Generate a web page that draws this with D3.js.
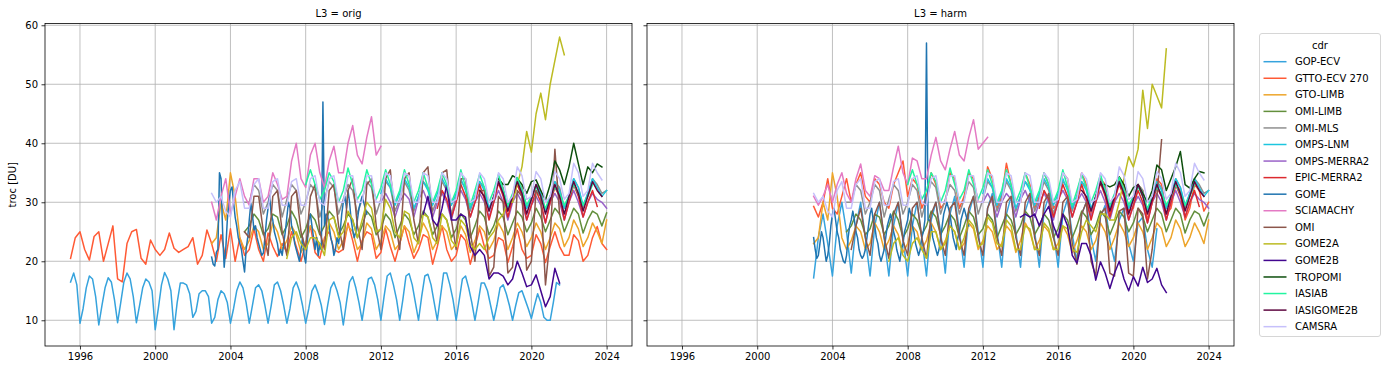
<!DOCTYPE html>
<html>
<head>
<meta charset="utf-8">
<script src="https://cdn.jsdelivr.net/npm/d3@7"></script>
<style>
  body { margin: 0; background: #fff; }
  svg { font-family: 'DejaVu Sans', sans-serif; }
</style>
</head>
<body>
<svg id="chart" width="1385" height="373"></svg>
<script>
  'use strict';

  const PANELS = ['orig', 'harm'];
  const X_TICKS = [1996, 2000, 2004, 2008, 2012, 2016, 2020, 2024];
  const Y_TICKS = [10, 20, 30, 40, 50, 60];
  const CDR = ['GOP-ECV', 'GTTO-ECV 270', 'GTO-LIMB', 'OMI-LIMB', 'OMI-MLS', 'OMPS-LNM',
    'OMPS-MERRA2', 'EPIC-MERRA2', 'GOME', 'SCIAMACHY', 'OMI', 'GOME2A', 'GOME2B',
    'TROPOMI', 'IASIAB', 'IASIGOME2B', 'CAMSRA'];
  const COLORS = ['#36a3dd', '#ff5a35', '#eda52b', '#638f3c', '#8f8f8f', '#1cc6df',
    '#9a62c8', '#dc2a2f', '#1f74b0', '#e47ac4', '#8c564b', '#bcbb22', '#42068f',
    '#0d4f0d', '#22f5a0', '#5e0740', '#c6c0fb'];

  // troc [DU]; GOP-ECV orig is bimonthly (Jan, Mar, May, Jul, Sep, Nov) from Jul 1995
  const gopEcvOrig = [16.5, 18, 16,
    9.5, 12, 15.5, 17.5, 17, 14, 9.2, 12.5, 15.5, 17.2, 16.5, 13.5,
    9.6, 13, 16.5, 18, 17, 14, 9.6, 12.5, 15.5, 17, 16.5, 15,
    8.4, 12, 16, 18.1, 17, 15, 8.4, 13, 16.3, 16.3, 16, 14.5,
    10.5, 11.5, 14.5, 15, 15, 14, 9.5, 10.5, 13.5, 15, 14.5, 13,
    9.5, 12, 15, 16.5, 15.5, 13, 9.5, 12.5, 15.5, 16, 15, 12.5,
    9.5, 12.5, 16, 16.5, 15, 12.5, 9.5, 12, 15.5, 16.5, 15, 12.5,
    9.5, 12, 15, 16, 14.5, 12.5, 9.3, 12.5, 15.5, 16.5, 15, 13,
    9.2, 13, 16.5, 17.4, 15.5, 13, 10, 13.5, 17, 17.3, 16, 13.5,
    10, 14, 17.5, 18, 16, 13.5, 10, 13.5, 17.5, 17.9, 16, 13,
    10, 14, 17.5, 17.8, 16, 13, 10, 14, 18, 18, 16, 13.5,
    10, 13.5, 17, 17.5, 15.5, 13, 10, 13, 16.3, 16.3, 15, 12.5,
    10, 12.5, 15.5, 16, 14.5, 12.5, 10, 12.5, 14.7, 15, 13.5, 12,
    10.3, 12.5, 14.5, 13, 10.5, 10, 10, 13, 16.4, 16];

  // the other series: quarterly values (Jan, Apr, Jul, Oct) from the given start year
  const gopEcvHarm = [17.2, 24, 28, 23, 17.5, 26, 30, 25, 18, 26, 30, 24, 17.5, 26, 30, 24,
    17.5, 26, 30, 24, 17.5, 26, 30, 24, 17.5, 27, 30, 25, 18, 28, 31, 25,
    19, 28, 31, 25, 19, 29, 31.5, 25, 19, 28, 31, 25, 19, 28.5, 31, 25,
    19, 28.5, 31, 25, 19, 28, 30.5, 24.5, 20, 28, 30, 24, 20, 27.5, 29.5, 23.5,
    20, 27, 29, 23, 20, 26.5, 27.5, 22, 19, 25.5];
  const gttoOrig = [20.5, 24,
    25, 22, 20.2, 24.2, 25, 20, 23, 26, 17, 16.5, 23, 25, 25.4, 20.5, 19.5, 23.6,
    22, 21, 22, 24.8, 22.2, 21.5, 22, 22.5, 24, 19.5, 21, 25.3, 23, 20, 24.5, 20.5,
    25.5, 20, 24, 21, 22, 25.5, 22, 20, 24.8, 22.5, 20.8, 23, 21.5, 25, 22.5, 20,
    23, 26, 21.5, 20.5, 24, 25, 22, 21.5, 22, 26.5, 23.5, 20, 23.5, 25, 24.5, 20.5,
    21.5, 25.5, 22.5, 20, 23, 26, 23, 20.5, 22, 24.5, 24, 19.5, 22.5, 26, 22, 20,
    21, 24.5, 23.5, 19.5, 22.5, 25.5, 22.5, 20.5, 21, 24, 23.5, 19.8, 22.5, 25.5, 22, 20.5,
    21, 24.5, 23, 19.8, 22.5, 25, 22.5, 21, 21, 24.5, 23.5, 20, 21, 24, 25.9, 23,
    22];
  const gttoHarm = [29.3, 27.5, 30, 34, 29, 28, 31, 34, 30, 33, 35, 31, 30, 34, 33, 30,
    29, 33, 35, 37, 31, 34, 33, 29, 31, 35, 33, 29, 30, 35, 34, 29,
    31, 35, 34, 30, 30, 36, 34, 29, 31, 36.6, 33, 30, 30, 35, 33, 29,
    31, 35, 33, 29, 30, 35, 34, 29, 31, 35, 33, 28, 30, 34, 33, 28,
    30, 34, 33, 28.5, 29, 33, 32, 27, 30, 34, 33, 28, 29, 33, 32, 27,
    29, 33, 32, 28.5, 30];
  const gtoLimb = [23, 24, 30, 27, 35, 31, 24, 22, 23.5, 26, 25, 22, 23, 26.5, 25, 22,
    23.5, 26, 24.5, 21.5, 23, 26, 25, 22, 23.5, 26.5, 25, 22, 23.5, 26, 25, 22,
    23, 26.5, 25.5, 22, 23.5, 26, 25, 22, 23, 26, 25, 21.5, 23.5, 26.5, 25, 22,
    23.5, 26, 25, 22, 23, 26, 24.5, 21.5, 23.5, 26, 25, 22, 23.5, 26.5, 25, 22,
    24, 26.5, 25, 22.5, 24, 26.5, 25, 22, 24, 26.5, 25.5, 22.5, 24, 27, 25.5, 22.5,
    24, 26.5, 25, 23, 27];
  const omiLimb = [25,
    26, 28, 27, 24.5, 25.5, 28, 27.5, 24.5, 26, 28.5, 27, 24, 25.5, 28, 27, 24.5,
    26, 28.5, 27.5, 24.5, 26, 28, 27, 24, 26, 28.5, 27.5, 24.5, 25.5, 28, 27, 24,
    26, 28, 27, 24.5, 26, 28.5, 27.5, 24.5, 26, 28, 27, 24, 25.5, 28, 27, 24,
    26, 28.5, 27.5, 24.5, 26, 28.5, 27.5, 24.5, 26.5, 28.5, 27.5, 25, 26.5, 29, 27.5, 25,
    27, 29, 28, 25, 27, 29, 28, 24.8, 27, 28.5, 28, 26, 28.2];
  const omiMls = [30,
    30, 33, 32, 28, 30, 33, 32, 27.5, 30.5, 33, 32, 28, 30, 33, 32, 27.5,
    30.5, 33.5, 32.5, 28, 30.5, 33, 32, 28, 30.5, 33.5, 32.5, 28, 30.5, 33.5, 32.5, 28.5,
    30.5, 33.5, 32, 28.5, 31, 33.5, 32.5, 28.5, 30.5, 33.5, 32, 28, 31, 33.5, 32.5, 28.5,
    31, 33.5, 32.5, 28.5, 31, 34, 32.5, 28.5, 31, 33.5, 32.5, 29, 30.5, 33, 32, 28.5,
    31, 33.5, 32.5, 29, 31, 34, 32.5, 29, 31.5, 34, 33, 31.5, 32];
  const ompsLnm = [31.5, 34, 32.5, 29.5, 31.5, 34, 32.5, 29, 31, 33.5, 32, 29.5,
    31.5, 34, 32.5, 29.5, 31.5, 34, 32, 29, 31, 33.5, 32, 29, 31, 33.5, 32, 29,
    31, 33.5, 32, 29, 30.5, 33, 31.5, 28.5, 31, 33.5, 32, 29, 31, 34, 32.5, 29.5,
    31.5, 34, 32.5, 31, 32];
  const ompsMerra2 = [30, 31.5, 30, 27.5, 30, 31.5, 30.5, 27.5, 30.5, 32, 30, 27.5,
    30, 31.5, 30, 27, 30.5, 32, 30.5, 27.5, 30, 31.5, 30, 27.5, 30, 32, 30, 27,
    30, 31.5, 30, 27, 29.5, 31, 29.5, 26.5, 30, 31.5, 30, 27, 30, 32, 30, 27.5,
    30, 31.5, 30.5, 30, 29];
  const epicMerra2 = [29, 32, 30.5, 27.5, 30, 33, 31, 27.5, 30, 33, 30.5, 27,
    30, 33.3, 31, 27.5, 30.5, 33, 31, 27, 29.5, 32, 30, 26.5, 30, 32.5, 31, 27,
    30, 33, 31, 27.5, 30, 32, 29.3];
  const sciaOrig = [30, 27, 31, 34, 28, 31, 34, 31, 29.5, 34, 34, 30, 31, 35, 33, 30.5,
    31, 37, 40, 34, 32.5, 38, 40, 35, 32.5, 37, 39.5, 35, 35, 40, 43, 38,
    36.5, 41, 44.5, 38, 39.5];
  const sciaHarm = [31, 29.5, 31, 33, 30, 33, 35, 31.5, 30, 34, 36.5, 32, 31, 34.5, 34, 32,
    32, 36, 39.5, 35, 33, 37.5, 37, 34, 34, 38, 41, 37, 35.5, 39, 42, 38,
    37, 41, 44, 39, 40, 41];
  const omiOrig = [25,
    24, 31, 31, 25, 21, 31, 32, 25, 21, 31, 32, 25, 22, 31, 33, 25,
    22, 32, 33, 26, 22, 32, 34, 26, 22, 33, 34, 26, 22, 34, 35.5, 27,
    22, 34, 35, 27, 23, 35, 36, 27, 23, 35, 35.5, 27, 22, 34, 34, 25,
    20, 32, 32, 17.5, 19, 31, 30, 18, 19, 32, 31, 18.5, 20, 32, 31, 16,
    24, 39, 28];
  const omiHarm = [22, 26, 29, 24, 21, 28, 30, 24, 20.5, 28, 30, 23.5, 21, 29, 30, 24,
    20.5, 28, 30, 24, 21, 29, 30, 24, 21, 29, 31, 24, 21, 29, 31, 24,
    21, 30, 31, 24, 21, 30, 31.5, 24, 21, 30, 31.5, 24, 21, 30, 31, 23,
    19.5, 28, 30, 20, 17.5, 28, 29, 18, 17.5, 28.5, 29, 18, 17.5, 29, 28, 17,
    22, 31, 40.6];
  const gome2aOrig = [20.5, 24, 25, 23, 22, 24, 24, 23, 21, 27, 27.5, 24, 25, 28.5, 27, 24,
    27, 30, 29, 25, 25.5, 30.5, 29, 25, 24, 28.5, 28, 24, 23, 28, 27.5, 24,
    23, 28, 27, 23.5, 22.5, 27, 26, 23, 22, 23, 22, 24, 25, 27, 28, 30,
    30, 33, 36, 42, 38.5, 45, 48.5, 44, 50, 54, 58, 55];
  const gome2aHarm = [20, 23, 24, 21, 20, 23, 24, 22, 20.5, 25, 25, 22, 23, 26, 25, 22,
    24, 27, 26, 22.5, 23, 27.5, 26.5, 23, 22.5, 27, 26, 22, 22, 26, 25.5, 22,
    22, 26.5, 25.5, 22, 22, 26, 25.5, 22, 21.5, 25, 27, 26, 25, 28, 28, 27,
    27, 30, 34, 37.7, 36, 39, 49, 42.5, 50, 48, 46, 56];
  const gome2bOrig = [28, 31, 27, 26, 29, 33, 27, 27, 28, 27.5, 22.5,
    21, 22, 21, 17, 18, 18, 17.5, 16, 17, 20, 18, 15.7, 16, 17.7, 15, 12.3,
    14, 18.8, 16.3];
  const gome2bHarm = [27.5, 28, 27.5, 28, 26, 28, 29.3, 26, 24, 28, 26, 21,
    19.7, 23, 23, 21, 16.8, 19.9, 18, 15.4, 18, 20, 17, 15, 17.4, 15.8, 19, 16.4,
    17, 18.8, 16, 14.7];
  const tropomiOrig = [34, 33, 33, 34.5, 34, 33, 31.5, 33.5, 33.8, 32, 30.4,
    33, 37, 35.5, 33, 36, 40, 36.5, 33, 36, 35, 36.5, 36];
  const tropomiHarm = [33, 33, 32.6, 33, 34.3, 33, 31, 32.5, 33, 31.5, 30,
    32, 36.3, 35.5, 32, 34, 36, 38.6, 33, 32.4, 34, 35.2, 35];
  const iasiab = [33, 35.5, 33, 30.5, 32, 35, 33.5, 30, 32, 35.8, 33, 30.5,
    32, 35.5, 33, 30.5, 32.5, 35.5, 33, 30, 32, 35.5, 33, 30, 32, 35, 32.5, 30,
    32, 35, 33, 30, 32, 35.5, 32.5, 29.5, 32, 34.7, 32.5, 30, 32, 34.7, 32, 29.5,
    31.5, 34.2, 32, 29.5, 31, 32.6, 31, 29, 31, 32.5, 31.5, 29.5, 31, 33, 31.5, 29.5,
    31, 33];
  const iasigome2b = [32, 31, 28.5, 31, 33.5, 31.5, 28.5, 31, 33.5, 31.5, 28,
    30.5, 33, 31, 28, 30.5, 33, 31, 28, 31, 33.5, 31.5, 28.5, 31, 33.5, 32, 31];
  const camsra = [31.5, 30, 31, 28.5, 27.5, 32, 33.5, 29, 29, 33, 34, 29, 29, 33.5, 34, 29.5,
    29.5, 33.5, 34, 29.5, 29.5, 34, 34.5, 30, 29.5, 34, 34.5, 30, 30, 34.5, 34.5, 30,
    30, 34.5, 34.5, 30, 30, 35, 34.5, 30, 30, 35, 34.5, 30, 30, 35, 34.5, 30,
    30, 35, 34, 30, 30.5, 35, 34, 30, 30.5, 35, 34, 30, 30.5, 35, 34, 30,
    31, 36, 34.5, 30.5, 31, 35.2, 34, 30, 31, 35.2, 34, 30.5, 31.5, 36.6, 35, 31,
    32, 36.6, 35, 33.8];

  // GOME, monthly values from Jan 2003
  const gomeOrig = [20.7, 19.5, 19.2, 21.5, 22, 35, 34, 25, 19, 22, 27, 30,
    32, 32.6, 30, 27.5, 26, 24, 23, 22, 20, 18.2, 22, 24,
    27, 29.8, 28, 25.3, 26, 24, 23, 22, 21, 21.4, 24, 27,
    29, 31, 28, 27, 25, 24, 23, 21, 22, 21, 23, 25,
    27.5, 30, 29, 26, 25, 23, 22, 21, 20, 22, 24, 21,
    19.7, 23, 27, 28, 26, 24, 22, 24, 21, 23, 22, 47,
    26, 28, 27.8, 26, 24, 23, 21, 22, 24, 23, 25, 28,
    30, 31, 29, 32, 30, 27, 25.3, 24, 25, 27, 29, 30,
    31, 30, 29, 28];
  const gomeHarm = [24, 22, 20.5, 21, 23, 25, 24, 22, 20, 21, 23, 26,
    28, 29, 27, 25, 24, 22, 21, 20, 19.7, 21, 24, 26,
    27, 28.5, 27, 25, 24, 22, 21, 20.5, 21, 22, 24, 26,
    28, 29, 27, 26, 24, 23, 21, 20, 21, 22, 24, 26,
    27, 28, 27, 25, 24, 22, 21, 20, 22, 23, 25, 26,
    27, 29, 28, 26, 25, 23, 22, 21, 22, 24, 25, 27,
    57, 27, 27, 26, 24, 23, 22, 21, 22, 24, 26, 28,
    29, 30, 29, 28, 26, 24, 23, 22, 24, 25, 27, 28,
    29, 28, 27, 26];

  (function () {
    const Q = 0.25;
    const B = 1 / 6;
    const M = 1 / 12;
    function run(start, step, values) { return { start: start, step: step, values: values }; }

    const SERIES = {
      'GOP-ECV': { orig: run(1995.5, B, gopEcvOrig), harm: run(2003, Q, gopEcvHarm) },
      'GTTO-ECV 270': { orig: run(1995.5, Q, gttoOrig), harm: run(2003, Q, gttoHarm) },
      'GTO-LIMB': { orig: run(2003, Q, gtoLimb), harm: run(2003, Q, gtoLimb) },
      'OMI-LIMB': { orig: run(2004.75, Q, omiLimb), harm: run(2004.75, Q, omiLimb) },
      'OMI-MLS': { orig: run(2004.75, Q, omiMls), harm: run(2004.75, Q, omiMls) },
      'OMPS-LNM': { orig: run(2012, Q, ompsLnm), harm: run(2012, Q, ompsLnm) },
      'OMPS-MERRA2': { orig: run(2012, Q, ompsMerra2), harm: run(2012, Q, ompsMerra2) },
      'EPIC-MERRA2': { orig: run(2015, Q, epicMerra2), harm: run(2015, Q, epicMerra2) },
      'GOME': { orig: run(2003, M, gomeOrig), harm: run(2003, M, gomeHarm) },
      'SCIAMACHY': { orig: run(2003, Q, sciaOrig), harm: run(2003, Q, sciaHarm) },
      'OMI': { orig: run(2004.75, Q, omiOrig), harm: run(2005, Q, omiHarm) },
      'GOME2A': { orig: run(2007, Q, gome2aOrig), harm: run(2007, Q, gome2aHarm) },
      'GOME2B': { orig: run(2014.25, Q, gome2bOrig), harm: run(2014, Q, gome2bHarm) },
      'TROPOMI': { orig: run(2018.25, Q, tropomiOrig), harm: run(2018.25, Q, tropomiHarm) },
      'IASIAB': { orig: run(2008, Q, iasiab), harm: run(2008, Q, iasiab) },
      'IASIGOME2B': { orig: run(2017.25, Q, iasigome2b), harm: run(2017.25, Q, iasigome2b) },
      'CAMSRA': { orig: run(2003, Q, camsra), harm: run(2003, Q, camsra) }
    };

    /* layout */
    const plotTop = 23.5;
    const plotBottom = 346;
    const panelRange = { orig: [45, 632], harm: [647, 1234] };

    const svg = d3.select('#chart');
    const y = d3.scaleLinear().domain([5.64, 60.3]).range([plotBottom, plotTop]);

    PANELS.forEach(function (panel, p) {
      const x = d3.scaleLinear().domain([1994.14, 2025.35]).range(panelRange[panel]);
      const g = svg.append('g');
      const left = panelRange[panel][0];
      const right = panelRange[panel][1];

      g.append('clipPath').attr('id', 'clip-' + panel)
        .append('rect')
        .attr('x', left).attr('y', plotTop)
        .attr('width', right - left).attr('height', plotBottom - plotTop);

      /* grid */
      g.selectAll('.vgrid').data(X_TICKS).enter().append('line')
        .attr('x1', d => x(d)).attr('x2', d => x(d))
        .attr('y1', plotTop).attr('y2', plotBottom)
        .attr('stroke', '#b0b0b0').attr('stroke-width', 0.8);
      g.selectAll('.hgrid').data(Y_TICKS).enter().append('line')
        .attr('x1', left).attr('x2', right)
        .attr('y1', d => y(d)).attr('y2', d => y(d))
        .attr('stroke', '#b0b0b0').attr('stroke-width', 0.8);

      /* lines, in legend order */
      const plot = g.append('g').attr('clip-path', 'url(#clip-' + panel + ')');
      CDR.forEach(function (name, i) {
        const s = SERIES[name][panel];
        const line = d3.line()
          .x((v, k) => x(s.start + k * s.step))
          .y(v => y(v));
        plot.append('path')
          .datum(s.values)
          .attr('d', line)
          .attr('fill', 'none')
          .attr('stroke', COLORS[i])
          .attr('stroke-width', 1.5)
          .attr('stroke-linejoin', 'round')
          .attr('stroke-linecap', 'square');
      });

      /* axes */
      const xAxis = d3.axisBottom(x).tickValues(X_TICKS).tickFormat(d3.format('d'))
        .tickSize(3.5).tickPadding(3.5).tickSizeOuter(0);
      const yAxis = d3.axisLeft(y).tickValues(Y_TICKS)
        .tickSize(3.5).tickPadding(3.5).tickSizeOuter(0);
      if (p === 1) yAxis.tickFormat('');

      const gx = g.append('g').attr('transform', 'translate(0,' + plotBottom + ')').call(xAxis);
      const gy = g.append('g').attr('transform', 'translate(' + left + ',0)').call(yAxis);
      [gx, gy].forEach(function (a) {
        a.select('.domain').remove();
        a.selectAll('line').attr('stroke', '#000').attr('stroke-width', 0.8);
        a.selectAll('text').attr('fill', '#000').style('font-size', '10px')
          .style('font-family', 'DejaVu Sans, sans-serif');
      });

      /* frame */
      g.append('rect')
        .attr('x', left).attr('y', plotTop)
        .attr('width', right - left).attr('height', plotBottom - plotTop)
        .attr('fill', 'none').attr('stroke', '#000').attr('stroke-width', 0.8);

      g.append('text')
        .attr('x', (left + right) / 2).attr('y', 16.5)
        .attr('text-anchor', 'middle')
        .style('font-size', '10px')
        .text('L3 = ' + panel);
    });

    svg.append('text')
      .attr('transform', 'translate(16,' + ((plotTop + plotBottom) / 2) + ') rotate(-90)')
      .attr('text-anchor', 'middle')
      .style('font-size', '10px')
      .text('troc [DU]');

    /* legend */
    const legend = svg.append('g');
    legend.append('rect')
      .attr('x', 1259.5).attr('y', 33.5).attr('width', 121).attr('height', 303)
      .attr('rx', 2.5)
      .attr('fill', '#fff').attr('stroke', '#d6d6d6').attr('stroke-width', 1);
    legend.append('text')
      .attr('x', 1320).attr('y', 48.5)
      .attr('text-anchor', 'middle')
      .style('font-size', '10px')
      .text('cdr');
    const rows = legend.selectAll('.row').data(CDR).enter().append('g')
      .attr('transform', (d, i) => 'translate(0,' + (61.7 + i * 16.56) + ')');
    rows.append('line')
      .attr('x1', 1263.5).attr('x2', 1286.5)
      .attr('stroke', (d, i) => COLORS[i]).attr('stroke-width', 1.5);
    rows.append('text')
      .attr('x', 1295).attr('y', 3.6)
      .style('font-size', '10px')
      .text(d => d);
  }());
</script>
</body>
</html>
